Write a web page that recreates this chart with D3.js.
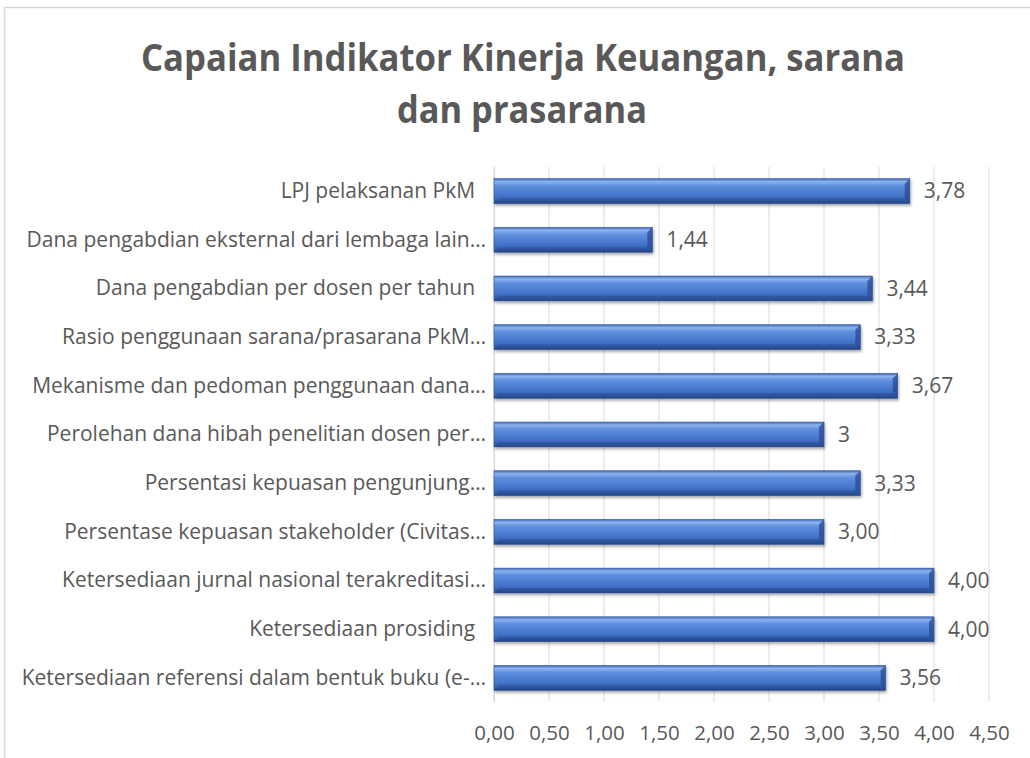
<!DOCTYPE html>
<html>
<head>
<meta charset="utf-8">
<script src="https://cdn.jsdelivr.net/npm/d3@7"></script>
<style>
body { margin: 0; background: #fff; }
text { font-family: "Open Sans", sans-serif; fill: #595959; white-space: pre; }
</style>
</head>
<body>
<div id="chart-area"></div>
<script>
var categories = [
  "LPJ pelaksanan PkM  ",
  "Dana pengabdian eksternal dari lembaga lain…",
  "Dana pengabdian per dosen per tahun  ",
  "Rasio penggunaan sarana/prasarana PkM…",
  "Mekanisme dan pedoman penggunaan dana…",
  "Perolehan dana hibah penelitian dosen per…",
  "Persentasi kepuasan pengunjung…",
  "Persentase kepuasan stakeholder (Civitas…",
  "Ketersediaan jurnal nasional terakreditasi…",
  "Ketersediaan prosiding  ",
  "Ketersediaan referensi dalam bentuk buku (e-…"
];
var values = [3.78, 1.44, 3.44, 3.33, 3.67, 3, 3.33, 3.00, 4.00, 4.00, 3.56];
var valueLabels = ["3,78", "1,44", "3,44", "3,33", "3,67", "3", "3,33", "3,00", "4,00", "4,00", "3,56"];
var tickValues = [0, 0.5, 1, 1.5, 2, 2.5, 3, 3.5, 4, 4.5];

var W = 1030, H = 758;
var margin = {top: 167, left: 494};
var width = 989 - margin.left;
var height = 702 - margin.top;

var svg = d3.select("#chart-area").append("svg")
  .attr("width", W)
  .attr("height", H);

// chart frame
svg.append("rect")
  .attr("x", 4.5).attr("y", 7.5)
  .attr("width", 1040).attr("height", 800)
  .attr("fill", "#fff")
  .attr("stroke", "#d9d9d9")
  .attr("stroke-width", 1.5);

var defs = svg.append("defs");
var grad = defs.append("linearGradient")
  .attr("id", "barGrad")
  .attr("x1", 0).attr("y1", 0).attr("x2", 0).attr("y2", 1);
grad.append("stop").attr("offset", "0%").attr("stop-color", "#3d68b8");
grad.append("stop").attr("offset", "12%").attr("stop-color", "#8fb4ee");
grad.append("stop").attr("offset", "28%").attr("stop-color", "#5f8fdf");
grad.append("stop").attr("offset", "70%").attr("stop-color", "#4273c8");
grad.append("stop").attr("offset", "88%").attr("stop-color", "#3560b0");
grad.append("stop").attr("offset", "100%").attr("stop-color", "#27478a");

var shadow = defs.append("filter").attr("id", "shadow")
  .attr("x", "-5%").attr("y", "-30%").attr("width", "110%").attr("height", "180%");
shadow.append("feGaussianBlur").attr("in", "SourceAlpha").attr("stdDeviation", 1.5);
shadow.append("feOffset").attr("dx", 1).attr("dy", 2).attr("result", "b");
shadow.append("feComponentTransfer").append("feFuncA").attr("type", "linear").attr("slope", 0.35);
var merge = shadow.append("feMerge");
merge.append("feMergeNode");
merge.append("feMergeNode").attr("in", "SourceGraphic");

// title
svg.append("text")
  .attr("x", 523).attr("y", 71)
  .attr("text-anchor", "middle")
  .attr("textLength", 764).attr("lengthAdjust", "spacingAndGlyphs")
  .style("font-size", "38px").style("font-weight", "bold")
  .text("Capaian Indikator Kinerja Keuangan, sarana");
svg.append("text")
  .attr("x", 522).attr("y", 123)
  .attr("text-anchor", "middle")
  .attr("textLength", 250).attr("lengthAdjust", "spacingAndGlyphs")
  .style("font-size", "38px").style("font-weight", "bold")
  .text("dan prasarana");

var g = svg.append("g")
  .attr("transform", "translate(" + margin.left + "," + margin.top + ")");

var xscale = d3.scaleLinear().domain([0, 4.5]).range([0, width]);
var yscale = d3.scaleBand().domain(categories).range([0, height]).paddingInner(0.49).paddingOuter(0.24);

// gridlines
g.selectAll(".grid").data(tickValues).enter()
  .append("line")
  .attr("x1", function(d) { return xscale(d); })
  .attr("x2", function(d) { return xscale(d); })
  .attr("y1", 0).attr("y2", height)
  .attr("stroke", "#d9d9d9").attr("stroke-width", 1);

// x axis labels
var bottomaxis = d3.axisBottom(xscale).tickValues(tickValues).tickSize(0).tickPadding(23)
  .tickFormat(function(d) { return d3.format(".2f")(d).replace(".", ","); });
var xa = g.append("g").attr("transform", "translate(0," + height + ")").call(bottomaxis);
xa.select(".domain").remove();
xa.selectAll("text").style("font-size", "20.5px").attr("fill", "#595959").style("font-family", "'Open Sans', sans-serif");

// y axis labels
var leftaxis = d3.axisLeft(yscale).tickSize(0).tickPadding(8);
var ya = g.append("g").call(leftaxis);
ya.select(".domain").attr("stroke", "#d9d9d9");
ya.selectAll("text").style("font-size", "21px").attr("fill", "#595959").style("font-family", "'Open Sans', sans-serif");

// bars
var bars = g.selectAll(".bar").data(values).enter()
  .append("g")
  .attr("transform", function(d, i) { return "translate(0," + yscale(categories[i]) + ")"; })
  .attr("filter", "url(#shadow)");

var bh = yscale.bandwidth();
bars.append("rect")
  .attr("x", 0).attr("y", 0)
  .attr("width", function(d) { return xscale(d); })
  .attr("height", bh)
  .attr("fill", "url(#barGrad)")
  .attr("stroke", "#2f559c").attr("stroke-width", 0.6);

// bevelled right end
bars.append("path")
  .attr("d", function(d) {
    var x = xscale(d), b = 5;
    return "M" + x + ",0 L" + (x - b) + "," + b + " L" + (x - b) + "," + (bh - b) + " L" + x + "," + bh + " Z";
  })
  .attr("fill", "#2b4f95").attr("opacity", 0.8);
bars.append("path")
  .attr("d", function(d) {
    var x = xscale(d), b = 5;
    return "M0," + bh + " L" + b + "," + (bh - b) + " L" + (x - b) + "," + (bh - b) + " L" + x + "," + bh + " Z";
  })
  .attr("fill", "#223f7a").attr("opacity", 0.35);

// value labels
g.selectAll(".val").data(values).enter()
  .append("text")
  .attr("x", function(d) { return xscale(d) + 14; })
  .attr("y", function(d, i) { return yscale(categories[i]) + bh / 2; })
  .attr("dy", "0.35em")
  .style("font-size", "21px")
  .text(function(d, i) { return valueLabels[i]; });
</script>
</body>
</html>
